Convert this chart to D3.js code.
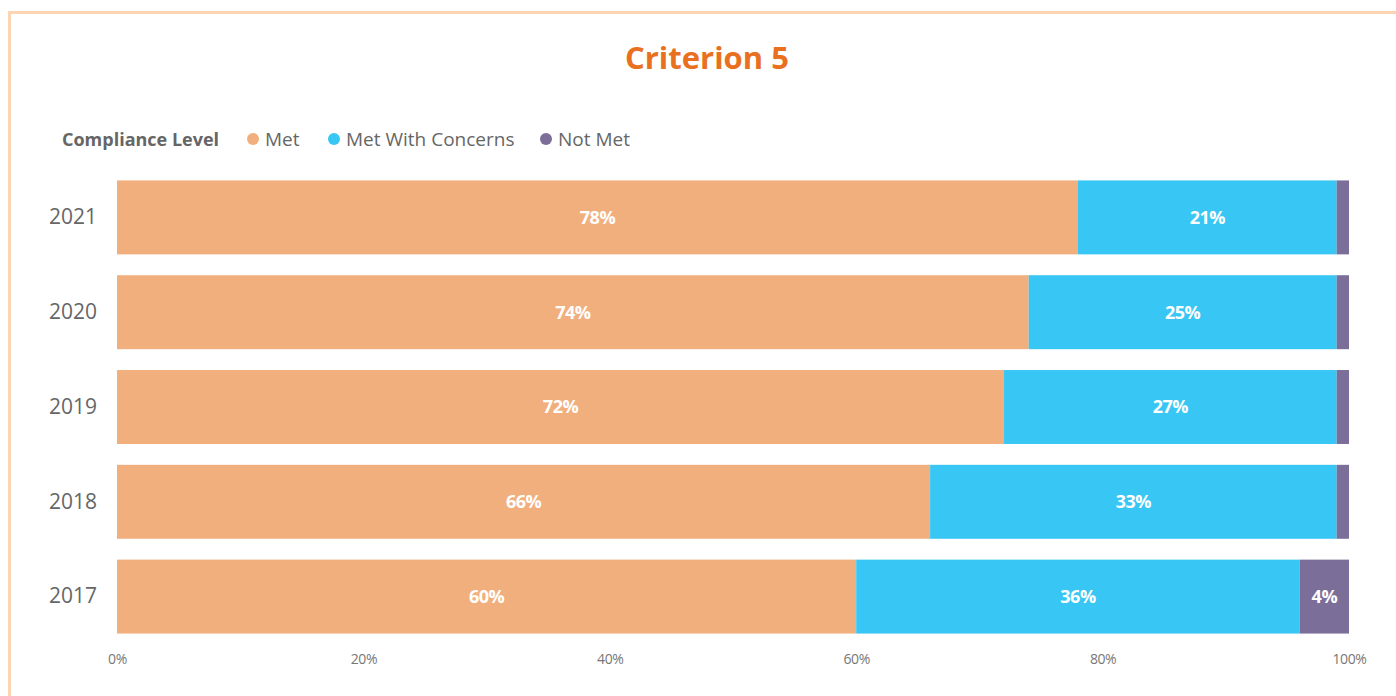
<!DOCTYPE html>
<html>
<head>
<meta charset="utf-8">
<script src="https://cdn.jsdelivr.net/npm/d3@7"></script>
<style>
  html, body { margin: 0; padding: 0; background: #fff; }
  svg { display: block; font-family: "Open Sans", "Noto Sans", sans-serif; }
</style>
</head>
<body>
<svg id="chart" width="1396" height="696"></svg>
<script>
// Compliance results for Criterion 5, by year
const years = ["2021", "2020", "2019", "2018", "2017"];
const met = [78, 74, 72, 66, 60];
const metWithConcerns = [21, 25, 27, 33, 36];
const notMet = [1, 1, 1, 1, 4];
const seriesNames = ["Met", "Met With Concerns", "Not Met"];
const seriesColors = ["#F2AF7E", "#38C6F4", "#7B6E98"];
const tickValues = [0, 20, 40, 60, 80, 100];

const svg = d3.select("#chart");
const W = 1396, H = 696;
const margin = { left: 117, right: 47, top: 180, bottom: 62 };

// outer frame
svg.append("rect")
  .attr("x", 9.5).attr("y", 12.5)
  .attr("width", W + 20).attr("height", H + 20)
  .attr("fill", "none").attr("stroke", "#FBD4B4").attr("stroke-width", 3);

// title
svg.append("text")
  .attr("x", 707).attr("y", 69)
  .attr("text-anchor", "middle")
  .attr("fill", "#E8701E")
  .attr("font-size", 31).attr("font-weight", 700)
  .text("Criterion 5");

// legend
const legend = svg.append("g");
legend.append("text")
  .attr("x", 62).attr("y", 146)
  .attr("fill", "#666").attr("font-size", 18).attr("font-weight", 700)
  .text("Compliance Level");
const legendX = [253, 334, 546];
seriesNames.forEach((name, i) => {
  legend.append("circle")
    .attr("cx", legendX[i]).attr("cy", 139).attr("r", 6)
    .attr("fill", seriesColors[i]);
  legend.append("text")
    .attr("x", legendX[i] + 12).attr("y", 146)
    .attr("fill", "#666").attr("font-size", 19)
    .text(name);
});

// scales
const x = d3.scaleLinear().domain([0, 100]).range([margin.left, W - margin.right]);
const y = d3.scaleBand().domain(years)
  .range([margin.top - 10, H - margin.bottom + 10])
  .paddingInner(0.22).paddingOuter(0.11);

// stacked data
const rows = years.map((yr, i) => ({
  year: yr,
  "Met": met[i],
  "Met With Concerns": metWithConcerns[i],
  "Not Met": notMet[i]
}));
const stacked = d3.stack().keys(seriesNames)(rows);

const layers = svg.append("g").selectAll("g")
  .data(stacked).join("g")
  .attr("fill", (d, i) => seriesColors[i]);

layers.selectAll("rect")
  .data(d => d)
  .join("rect")
  .attr("x", d => x(d[0]))
  .attr("y", d => y(d.data.year))
  .attr("width", d => x(d[1]) - x(d[0]))
  .attr("height", y.bandwidth());

// value labels (skip slivers too narrow to hold text)
layers.each(function(layer) {
  d3.select(this).selectAll("text.val")
    .data(layer.filter(d => d[1] - d[0] >= 3))
    .join("text")
    .attr("class", "val")
    .attr("x", d => (x(d[0]) + x(d[1])) / 2)
    .attr("y", d => y(d.data.year) + y.bandwidth() / 2)
    .attr("dy", "0.35em")
    .attr("text-anchor", "middle")
    .attr("fill", "#fff")
    .attr("font-size", 18).attr("font-weight", 700)
    .attr("letter-spacing", -0.5)
    .text(d => (d[1] - d[0]) + "%");
});

// y axis labels
const yAxis = d3.axisLeft(y).tickSize(0).tickPadding(20);
svg.append("g")
  .attr("transform", `translate(${margin.left},0)`)
  .call(yAxis)
  .call(g => g.select(".domain").remove())
  .call(g => g.selectAll("text")
    .attr("fill", "#666").attr("font-size", 21)
    .attr("font-family", "'Open Sans', sans-serif"));

// x axis labels
const xAxis = d3.axisBottom(x).tickValues(tickValues).tickSize(0).tickPadding(0)
  .tickFormat(d => d + "%");
svg.append("g")
  .attr("transform", `translate(0,${H - 42})`)
  .call(xAxis)
  .call(g => g.select(".domain").remove())
  .call(g => g.selectAll("text")
    .attr("fill", "#777").attr("font-size", 14)
    .attr("letter-spacing", -0.4)
    .attr("font-family", "'Open Sans', sans-serif"));
</script>
</body>
</html>
